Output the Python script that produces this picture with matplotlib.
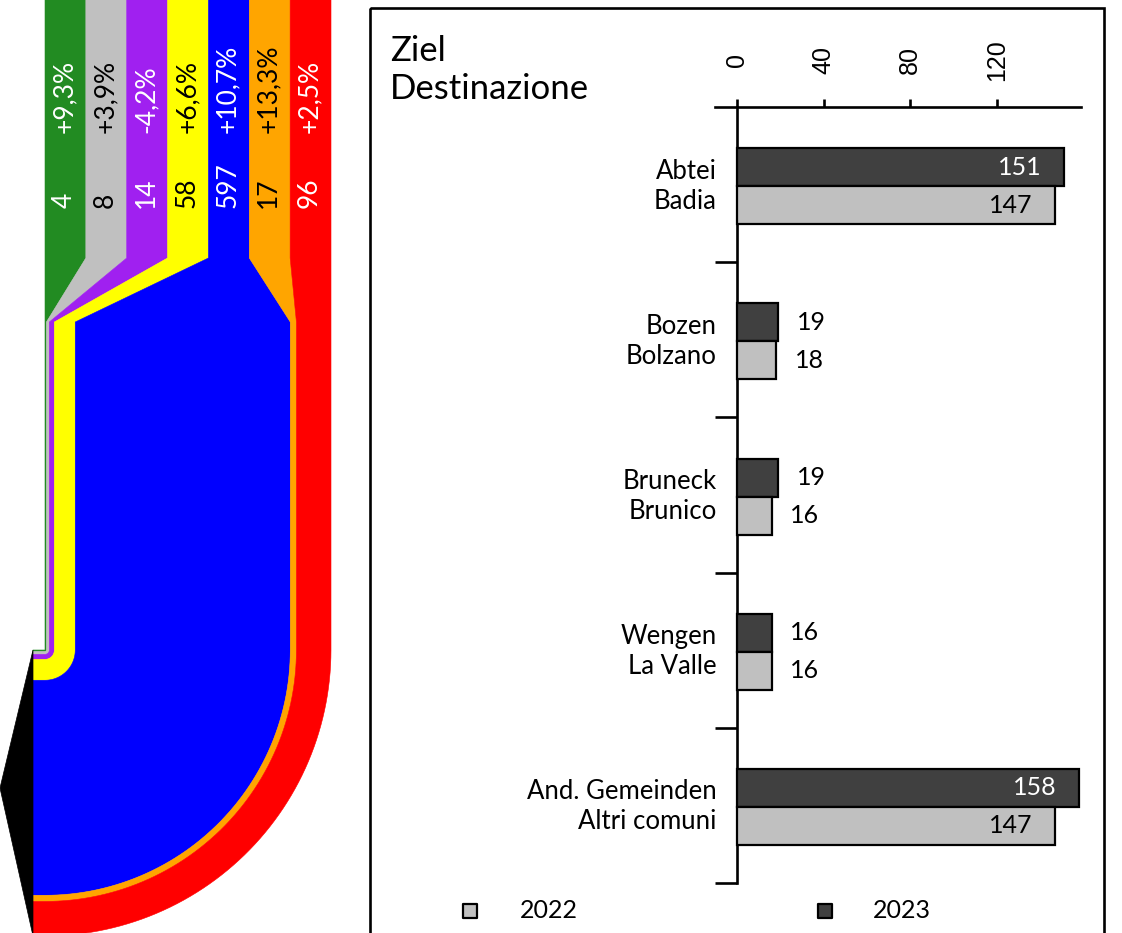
import numpy as np
import matplotlib
matplotlib.use("Agg")
import matplotlib.pyplot as plt
from matplotlib.patches import Polygon, Rectangle
from matplotlib.transforms import offset_copy

# ---- data -----------------------------------------------------------------
flow_values = [4, 8, 14, 58, 597, 17, 96]
flow_changes = ["+9,3%", "+3,9%", "-4,2%", "+6,6%", "+10,7%", "+13,3%", "+2,5%"]
flow_colors = ["#228B22", "#C0C0C0", "#A020F0", "#FFFF00", "#0000FF", "#FFA500", "#FF0000"]
flow_text = ["white", "black", "white", "black", "white", "black", "white"]

categories = ["Abtei\nBadia", "Bozen\nBolzano", "Bruneck\nBrunico",
              "Wengen\nLa Valle", "And. Gemeinden\nAltri comuni"]
values_2023 = [151, 19, 19, 16, 158]
values_2022 = [147, 18, 16, 16, 147]
x_ticks = [0, 40, 80, 120]

FONT = ["Lato", "DejaVu Sans"]
W, H = 1122, 933

fig = plt.figure(figsize=(W / 100, H / 100), dpi=100)

# pixel overlay for the flow diagram, frame and legend
ax0 = fig.add_axes([0, 0, 1, 1])
ax0.set_xlim(0, W)
ax0.set_ylim(H, 0)
ax0.axis("off")

# ---- flow diagram ---------------------------------------------------------
x_left, x_right = 45, 331
col_w = (x_right - x_left) / len(flow_values)
scale = (x_right - x_left) / sum(flow_values)
y_col, y_merge = 258, 322
cx, cy = x_left, 650
x_end = 33
cum = np.concatenate([[0], np.cumsum(flow_values)])
theta = np.linspace(0, np.pi / 2, 60)

for i, v in enumerate(flow_values):
    r_in, r_out = cum[i] * scale, cum[i + 1] * scale
    cl, cr = x_left + i * col_w, x_left + (i + 1) * col_w
    pts = [(cl, -5), (cl, y_col), (cx + r_in, y_merge), (cx + r_in, cy)]
    pts += [(cx + r_in * np.cos(t), cy + r_in * np.sin(t)) for t in theta]
    pts += [(x_end, cy + r_in), (x_end, cy + r_out), (cx, cy + r_out)]
    pts += [(cx + r_out * np.cos(t), cy + r_out * np.sin(t)) for t in theta[::-1]]
    pts += [(cx + r_out, y_merge), (cr, y_col), (cr, -5)]
    ax0.add_patch(Polygon(pts, closed=True, facecolor=flow_colors[i],
                          edgecolor=flow_colors[i], lw=0.4, zorder=2))
    xm = (cl + cr) / 2 - 1
    ax0.text(xm, 208, str(v), rotation=90, ha="center", va="bottom",
             color=flow_text[i], fontsize=19, family=FONT, zorder=3)
    ax0.text(xm, 133, flow_changes[i], rotation=90, ha="center", va="bottom",
             color=flow_text[i], fontsize=19, family=FONT, zorder=3)

# destination arrow
ax0.add_patch(Polygon([(x_end, cy), (0, (cy + cy + cum[-1] * scale) / 2 - 5),
                       (x_end, cy + cum[-1] * scale)], closed=True,
                      facecolor="black", edgecolor="black", lw=0.5, zorder=3))

# ---- right panel frame, title, legend -------------------------------------
ax0.add_patch(Rectangle((370, 8), 734, 1000, fill=False, edgecolor="black", lw=1.9, zorder=1))
ax0.text(390, 70, "Ziel\nDestinazione", ha="left", va="center", fontsize=25,
         family=FONT, linespacing=1.2)

ax0.scatter([470], [911], marker="s", s=110, facecolor="#C0C0C0", edgecolor="black", lw=1.6)
ax0.text(520, 911, "2022", ha="left", va="center", fontsize=18, family=FONT)
ax0.scatter([825], [911], marker="s", s=110, facecolor="#404040", edgecolor="black", lw=1.6)
ax0.text(873, 911, "2023", ha="left", va="center", fontsize=18, family=FONT)

# ---- bar chart ------------------------------------------------------------
ax = fig.add_axes([715 / W, (H - 883) / H, 366 / W, 776 / H])
ax.set_facecolor("none")
ax.set_xlim(-10.2, 158.8)
ax.set_ylim(len(categories), 0)

pos = np.arange(len(categories)) + 0.51
bh = 0.245
ax.barh(pos - bh / 2, values_2023, height=bh, color="#404040", edgecolor="black", lw=1.6, zorder=3)
ax.barh(pos + bh / 2, values_2022, height=bh, color="#C0C0C0", edgecolor="black", lw=1.6, zorder=3)

for p, v in zip(pos - bh / 2, values_2023):
    if v > 100:
        ax.text(v - 10.5, p, str(v), ha="right", va="center", color="white",
                fontsize=18, family=FONT)
    else:
        ax.text(v + 8.5, p, str(v), ha="left", va="center", color="black",
                fontsize=18, family=FONT)
for p, v in zip(pos + bh / 2, values_2022):
    if v > 100:
        ax.text(v - 10.5, p, str(v), ha="right", va="center", color="black",
                fontsize=18, family=FONT)
    else:
        ax.text(v + 8.5, p, str(v), ha="left", va="center", color="black",
                fontsize=18, family=FONT)

for p, c in zip(pos, categories):
    ax.text(-9.4, p, c, ha="right", va="center", fontsize=18.5, family=FONT,
            linespacing=1.25, clip_on=False)

for s in ["right", "bottom"]:
    ax.spines[s].set_visible(False)
ax.spines["left"].set_position(("data", 0))
ax.spines["left"].set_linewidth(1.9)
ax.spines["top"].set_linewidth(1.9)

ax.xaxis.set_ticks_position("top")
ax.set_xticks(x_ticks)
ax.tick_params(axis="x", direction="out", length=6, width=1.9,
               labeltop=False, labelbottom=False)
# rotated value labels above the top axis
lbl_trans = offset_copy(ax.get_xaxis_transform(), fig=fig, y=34, units="points")
for t in x_ticks:
    ax.text(t, 1.0, str(t), transform=lbl_trans, rotation=90, ha="center",
            va="center", fontsize=18, family=["Liberation Sans", "DejaVu Sans"],
            clip_on=False)

ax.set_yticks(np.arange(1, len(categories) + 1))
ax.set_yticklabels([])
ax.tick_params(axis="y", direction="out", length=16, width=1.9)

fig.savefig("out.png", dpi=100)
